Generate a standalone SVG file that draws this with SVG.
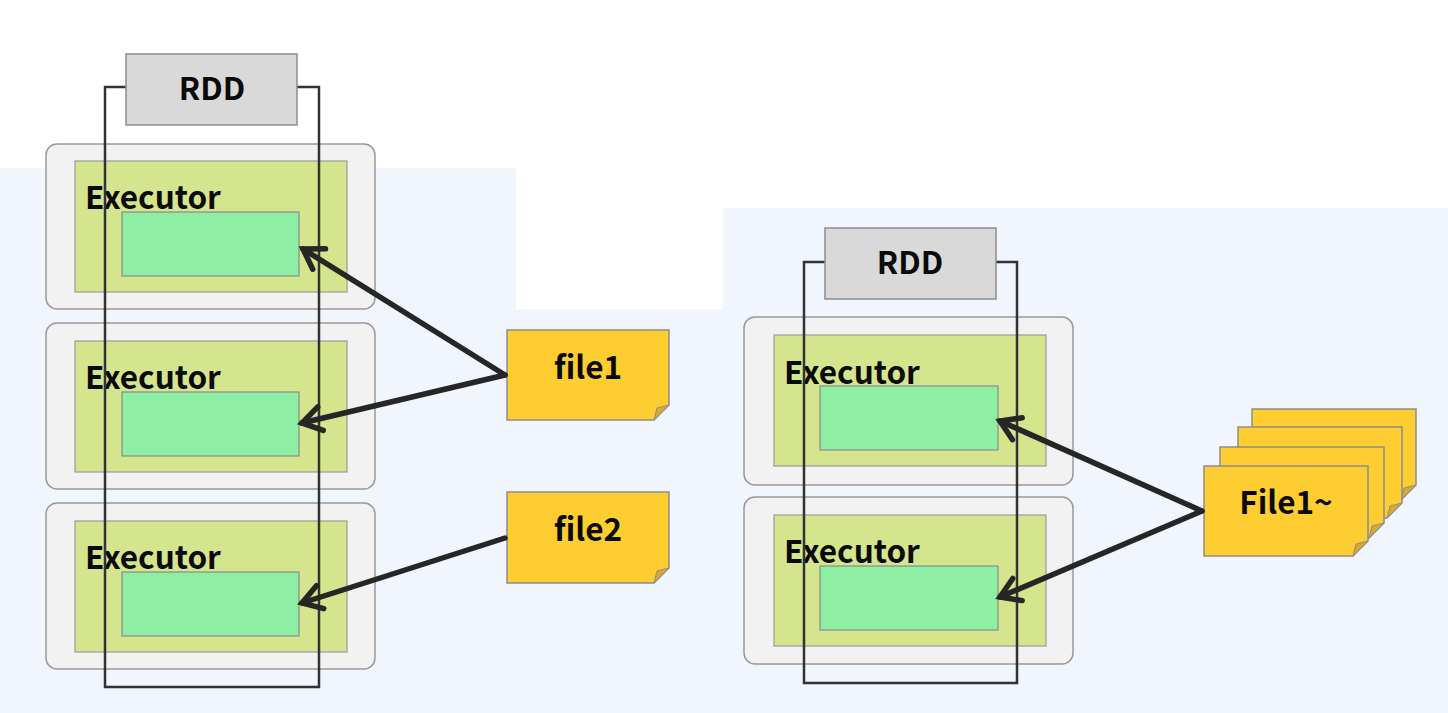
<svg xmlns="http://www.w3.org/2000/svg" width="1448" height="713" viewBox="0 0 1448 713">
<defs>
<style>
.bg{fill:#f0f5fe;}
.outer{fill:#f2f2f2;stroke:#999;stroke-width:1.5;}
.green{fill:#d5e58e;stroke:#999;stroke-width:1.2;}
.inner{fill:#8eeea4;stroke:#8a8a8a;stroke-width:1.2;}
.rdd{fill:#d9d9d9;stroke:#8c8c8c;stroke-width:1.5;}
.frame{fill:none;stroke:#333;stroke-width:2.5;}
.note{fill:#fecd31;stroke:#8c8c8c;stroke-width:1.5;}
.fold{fill:#d8a92e;stroke:#8c8c8c;stroke-width:1;}
.lbl{font-family:"Noto Sans CJK KR","Noto Sans",sans-serif;font-weight:bold;fill:#0a0a0a;}
.t28{font-size:31.5px;}
.arrow{fill:none;stroke:#262626;stroke-width:5.5;stroke-linecap:round;marker-end:url(#chev);}
</style>
<marker id="chev" markerUnits="userSpaceOnUse" markerWidth="40" markerHeight="40" refX="0" refY="0" viewBox="-25 -20 30 40" orient="auto">
<path d="M -19 -12 L 0 0 L -19 12" fill="none" stroke="#262626" stroke-width="5.5" stroke-linecap="round" stroke-linejoin="miter"/>
</marker>
</defs>
<rect x="0" y="0" width="1448" height="713" fill="#ffffff"/>
<path class="bg" d="M0 168 H516 V309 H723 V208 H1448 V713 H0 Z"/>

<!-- Left diagram -->
<g id="left-exec1">
<rect class="outer" x="46" y="144" width="329" height="165" rx="11"/>
<rect class="green" x="75" y="161" width="272" height="131"/>
<text class="lbl t28" x="85" y="209">Executor</text>
<rect class="inner" x="122" y="212" width="177" height="64"/>
</g>
<g id="left-exec2">
<rect class="outer" x="46" y="323" width="329" height="166" rx="11"/>
<rect class="green" x="75" y="341" width="272" height="131"/>
<text class="lbl t28" x="85" y="389">Executor</text>
<rect class="inner" x="122" y="392" width="177" height="64"/>
</g>
<g id="left-exec3">
<rect class="outer" x="46" y="503" width="329" height="166" rx="11"/>
<rect class="green" x="75" y="521" width="272" height="131"/>
<text class="lbl t28" x="85" y="569">Executor</text>
<rect class="inner" x="122" y="572" width="177" height="64"/>
</g>
<g id="left-rdd">
<path class="frame" d="M126 87 H105 V687 H319 V87 H297"/>
<rect class="rdd" x="126" y="54" width="171" height="71"/>
<text class="lbl t28" x="212" y="100" text-anchor="middle">RDD</text>
</g>
<g id="file1">
<path class="note" d="M507 330 H669 V405 L654 420 H507 Z"/>
<path class="fold" d="M669 405 L654 420 L657 408 Z"/>
<text class="lbl t28" x="588" y="379" text-anchor="middle">file1</text>
</g>
<g id="file2">
<path class="note" d="M507 492 H669 V568 L654 583 H507 Z"/>
<path class="fold" d="M669 568 L654 583 L657 571 Z"/>
<text class="lbl t28" x="588" y="541" text-anchor="middle">file2</text>
</g>

<!-- Right diagram -->
<g id="right-exec1">
<rect class="outer" x="744" y="317" width="329" height="168" rx="11"/>
<rect class="green" x="774" y="335" width="272" height="131"/>
<text class="lbl t28" x="784" y="384">Executor</text>
<rect class="inner" x="820" y="386" width="178" height="64"/>
</g>
<g id="right-exec2">
<rect class="outer" x="744" y="497" width="329" height="167" rx="11"/>
<rect class="green" x="774" y="515" width="272" height="131"/>
<text class="lbl t28" x="784" y="563">Executor</text>
<rect class="inner" x="820" y="566" width="178" height="64"/>
</g>
<g id="right-rdd">
<path class="frame" d="M825 262 H804 V683 H1017 V262 H996"/>
<rect class="rdd" x="825" y="228" width="171" height="71"/>
<text class="lbl t28" x="910" y="274" text-anchor="middle">RDD</text>
</g>
<g id="files-stack">
<path class="note" d="M1252 409 H1416 V485 L1401 500 H1252 Z"/>
<path class="fold" d="M1416 485 L1401 500 L1404 488 Z"/>
<path class="note" d="M1238 427 H1402 V503 L1387 518 H1238 Z"/>
<path class="fold" d="M1402 503 L1387 518 L1390 506 Z"/>
<path class="note" d="M1220 447 H1384 V523 L1369 538 H1220 Z"/>
<path class="fold" d="M1384 523 L1369 538 L1372 526 Z"/>
<path class="note" d="M1204 466 H1368 V541 L1353 556 H1204 Z"/>
<path class="fold" d="M1368 541 L1353 556 L1356 544 Z"/>
<text class="lbl t28" x="1286" y="514" text-anchor="middle">File1~</text>
</g>

<g id="connectors">
<path class="arrow" d="M505 375 L303 249"/>
<path class="arrow" d="M505 375 L302 423"/>
<path class="arrow" d="M505 538 L302 603"/>
<path class="arrow" d="M1202 511 L1000 421"/>
<path class="arrow" d="M1202 511 L1000 597"/>
</g>
</svg>
